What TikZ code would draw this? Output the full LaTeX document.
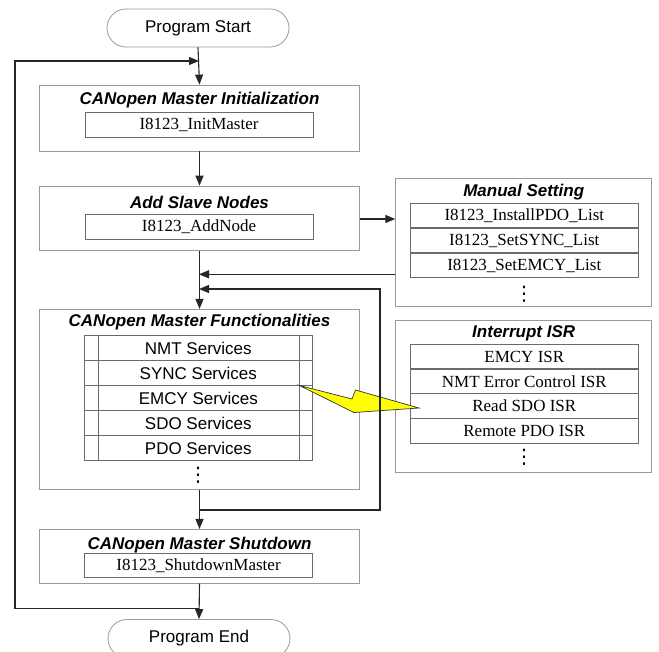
\documentclass[tikz,border=0pt]{standalone}
\usepackage{fontspec}
\setmainfont{Liberation Serif}
\setsansfont{Liberation Sans}
\newfontfamily\dotsfont{DejaVu Sans}
\usetikzlibrary{arrows.meta,shapes.misc}

\definecolor{boxgray}{gray}{0.6}
\definecolor{rowgray}{gray}{0.42}
\definecolor{boltyellow}{RGB}{255,255,0}

\tikzset{
  terminal/.style={rounded rectangle, draw=boxgray, line width=0.8pt,
    minimum width=182pt, minimum height=38pt, inner sep=0pt,
    font=\sffamily\fontsize{17}{20}\selectfont},
  group/.style={draw=boxgray, line width=0.8pt, inner sep=0pt},
  grouptitle/.style={inner sep=0pt,
    font=\sffamily\bfseries\itshape\fontsize{17}{20}\selectfont},
  call/.style={draw=rowgray, line width=0.8pt, minimum width=228pt,
    minimum height=24.5pt, inner sep=0pt,
    font=\rmfamily\fontsize{17}{20}\selectfont},
  service/.style={call, minimum height=25pt,
    font=\sffamily\fontsize{17}{20}\selectfont},
  more/.style={inner sep=0pt, font=\dotsfont\fontsize{20}{20}\selectfont},
  flow/.style={->, draw=black!85, line width=1.1pt},
}

\begin{document}
\begin{tikzpicture}[x=1pt, y=-1pt, >={Triangle[length=10pt,width=8pt]}]
    \useasboundingbox (0,0) rectangle (659,651);

    % Start / End
    \node[terminal] (start) at (198,28) {Program Start};
    \node[terminal] (end) at (199,638.5) {Program End};

    % Initialisierung
    \node[group, minimum width=320pt, minimum height=66pt] (init) at (199.5,118) {};
    \node[grouptitle] (inittitle) at (199.5,100.5) {CANopen Master Initialization};
    \node[call] (initmaster) at (199,125) {I8123\_InitMaster};

    % Slave Nodes
    \node[group, minimum width=320pt, minimum height=64.5pt] (add) at (199.5,218.3) {};
    \node[grouptitle] (addtitle) at (199.5,202) {Add Slave Nodes};
    \node[call, minimum height=25pt] (addnode) at (199,226.8) {I8123\_AddNode};

    % Manual Setting
    \node[group, minimum width=256pt, minimum height=128pt] (manual) at (523.7,242.5) {};
    \node[grouptitle] (manualtitle) at (523.7,192) {Manual Setting};
    \node[call] (installpdo) at (524.3,215.5) {I8123\_InstallPDO\_List};
    \node[call] (setsync) at (524.3,240.5) {I8123\_SetSYNC\_List};
    \node[call] (setemcy) at (524.3,265.5) {I8123\_SetEMCY\_List};
    \node[more] (manualdots) at (524,294.5) {⋮};

    % Functionalities
    \node[group, minimum width=320pt, minimum height=180pt] (func) at (199.5,399.3) {};
    \node[grouptitle] (functitle) at (199.5,322) {CANopen Master Functionalities};
    \node[service] (nmt) at (198.3,348.3) {NMT Services};
    \node[service] (sync) at (198.3,373.3) {SYNC Services};
    \node[service] (emcy) at (198.3,398.3) {EMCY Services};
    \node[service] (sdo) at (198.3,423.3) {SDO Services};
    \node[service] (pdo) at (198.3,448.3) {PDO Services};
    \draw[draw=rowgray, line width=0.8pt] ([xshift=14pt]nmt.north west) -- ([xshift=14pt]pdo.south west);
    \draw[draw=rowgray, line width=0.8pt] ([xshift=-13.5pt]nmt.north east) -- ([xshift=-13.5pt]pdo.south east);
    \node[more] (funcdots) at (198,475.5) {⋮};

    % Interrupt ISR
    \node[group, minimum width=256pt, minimum height=152.5pt] (isr) at (523.7,396.3) {};
    \node[grouptitle] (isrtitle) at (523.7,333) {Interrupt ISR};
    \node[call] (emcyisr) at (524.3,356.5) {EMCY ISR};
    \node[call] (nmtisr) at (524.3,381.3) {NMT Error Control ISR};
    \node[call] (sdoisr) at (524.3,406) {Read SDO ISR};
    \node[call] (pdoisr) at (524.3,430.7) {Remote PDO ISR};
    \node[more] (isrdots) at (524,457.5) {⋮};

    % Shutdown
    \node[group, minimum width=320pt, minimum height=54pt] (shut) at (199.5,556.3) {};
    \node[grouptitle] (shuttitle) at (199.5,545.5) {CANopen Master Shutdown};
    \node[call, minimum width=228.5pt, minimum height=24pt] (shutmaster) at (198.5,565.3) {I8123\_ShutdownMaster};

    % Blitz
    \draw[draw=black!80, fill=boltyellow, line width=0.7pt, line join=miter]
        (299.5,385.5) -- (352,399) -- (355.5,390) -- (419,408) -- (354,412.5) -- cycle;

    % Verbindungen
    \coordinate (looptop) at (199,61);
    \coordinate (loopbot) at (199,608.3);
    \coordinate (loopleft) at (15,608.3);
    \coordinate (manjoin) at (199,274.3);
    \coordinate (fbtop) at (199,289);
    \coordinate (fbbot) at (199,510);
    \coordinate (fbright) at (380,510);

    \draw[flow] (start.south) -- (init.north);
    \draw[flow] (init.south) -- (add.north);
    \draw[flow] (add.east |- 0,219) -- (manual.west |- 0,219);
    \draw[flow] (add.south) -- (func.north);
    \draw[flow] (manual.west |- manjoin) -- (manjoin);
    \draw[flow] (fbbot) -- (fbright) |- (fbtop);
    \draw[flow] (func.south) -- (shut.north);
    \draw[flow] (shut.south) -- (end.north);
    \draw[flow] (loopbot) -- (loopleft) |- (looptop);
\end{tikzpicture}
\end{document}
